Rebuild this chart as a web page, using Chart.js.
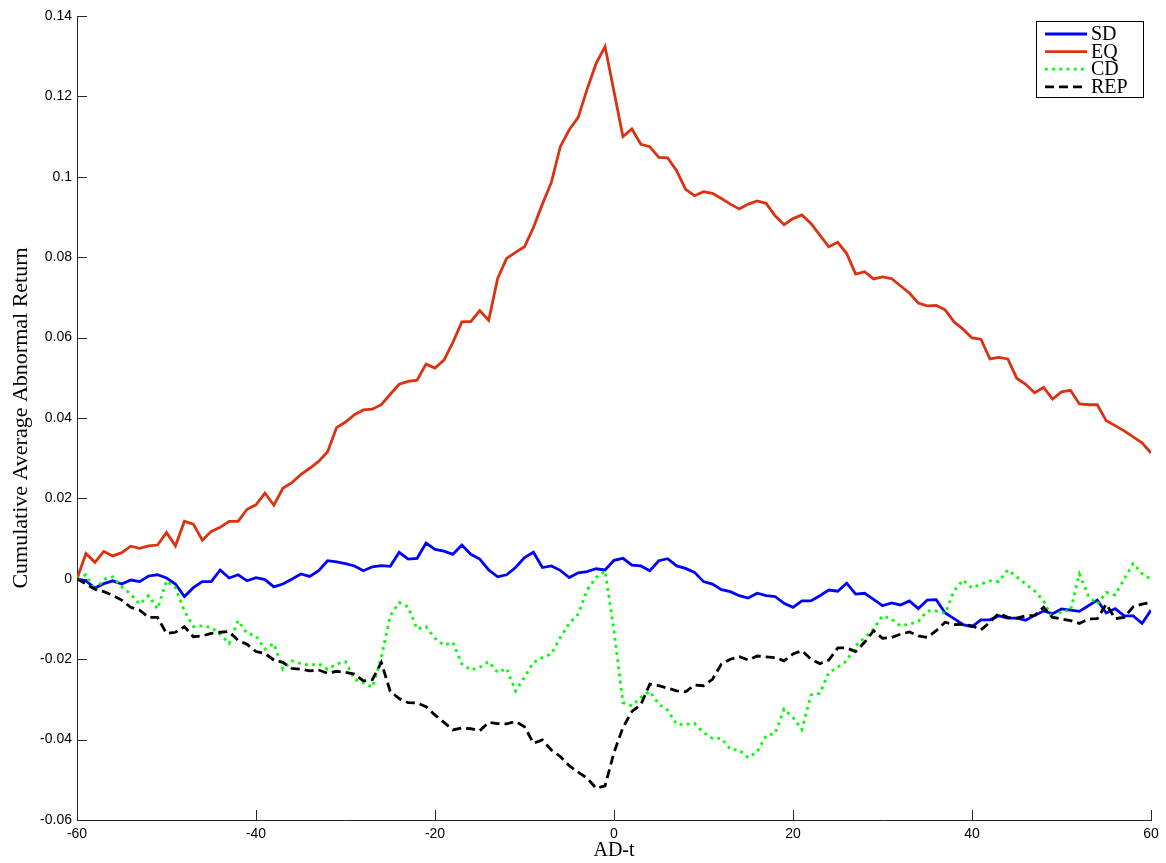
<!DOCTYPE html>
<html>
<head>
<meta charset="utf-8">
<script src="https://cdn.jsdelivr.net/npm/chart.js@4.4.1/dist/chart.umd.min.js"></script>
<style>
  html, body { margin: 0; padding: 0; background: #fff; }
  #wrap { width: 1166px; height: 863px; }
</style>
</head>
<body>
<div id="wrap"><canvas id="carChart" width="1166" height="863"></canvas></div>
<script>
// event days relative to announcement
const days = [-60,-59,-58,-57,-56,-55,-54,-53,-52,-51,-50,-49,-48,-47,-46,-45,-44,-43,-42,-41,
  -40,-39,-38,-37,-36,-35,-34,-33,-32,-31,-30,-29,-28,-27,-26,-25,-24,-23,-22,-21,
  -20,-19,-18,-17,-16,-15,-14,-13,-12,-11,-10,-9,-8,-7,-6,-5,-4,-3,-2,-1,
  0,1,2,3,4,5,6,7,8,9,10,11,12,13,14,15,16,17,18,19,
  20,21,22,23,24,25,26,27,28,29,30,31,32,33,34,35,36,37,38,39,
  40,41,42,43,44,45,46,47,48,49,50,51,52,53,54,55,56,57,58,59,60];

const sdValues = [0,-0.0005,-0.0023,-0.0012,-0.0005,-0.0013,-0.0003,-0.0007,0.0007,0.0010,
  0.0002,-0.0013,-0.0044,-0.0022,-0.0007,-0.0007,0.0022,0.0002,0.0010,-0.0005,
  0.0003,-0.0002,-0.0020,-0.0013,-0.0001,0.0012,0.0006,0.0020,0.0045,0.0042,
  0.0038,0.0032,0.0020,0.0030,0.0033,0.0031,0.0066,0.0049,0.0051,0.0089,
  0.0073,0.0069,0.0061,0.0084,0.0061,0.0049,0.0022,0.0005,0.0010,0.0028,
  0.0053,0.0066,0.0028,0.0032,0.0021,0.0003,0.0015,0.0018,0.0025,0.0022,
  0.0046,0.0051,0.0034,0.0032,0.0020,0.0045,0.0050,0.0032,0.0026,0.0016,
  -0.0007,-0.0013,-0.0027,-0.0032,-0.0042,-0.0048,-0.0036,-0.0042,-0.0044,-0.0061,
  -0.0071,-0.0055,-0.0055,-0.0042,-0.0028,-0.0031,-0.0011,-0.0038,-0.0036,-0.0051,
  -0.0067,-0.0060,-0.0065,-0.0055,-0.0074,-0.0053,-0.0052,-0.0085,-0.0099,-0.0114,
  -0.0119,-0.0102,-0.0102,-0.0092,-0.0098,-0.0098,-0.0103,-0.0091,-0.0080,-0.0087,
  -0.0075,-0.0078,-0.0081,-0.0067,-0.0053,-0.0085,-0.0074,-0.0092,-0.0092,-0.0111,-0.0078];

const eqValues = [0,0.0063,0.0041,0.0068,0.0057,0.0065,0.0081,0.0076,0.0082,0.0084,
  0.0115,0.0082,0.0143,0.0136,0.0096,0.0118,0.0128,0.0143,0.0143,0.0173,
  0.0184,0.0213,0.0183,0.0225,0.0239,0.0259,0.0275,0.0292,0.0316,0.0376,
  0.0390,0.0408,0.0420,0.0422,0.0433,0.0459,0.0484,0.0491,0.0494,0.0534,
  0.0524,0.0544,0.0588,0.0639,0.0640,0.0667,0.0643,0.0747,0.0797,0.0812,
  0.0826,0.0874,0.0932,0.0986,0.1075,0.1117,0.1148,0.1218,0.1282,0.1324,
  0.1212,0.1100,0.1119,0.1081,0.1075,0.1048,0.1047,0.1015,0.0969,0.0953,
  0.0963,0.0959,0.0946,0.0932,0.0920,0.0932,0.0940,0.0934,0.0903,0.0881,
  0.0896,0.0905,0.0884,0.0855,0.0826,0.0837,0.0809,0.0758,0.0764,0.0746,
  0.0751,0.0747,0.0729,0.0711,0.0686,0.0679,0.0680,0.0669,0.0639,0.0621,
  0.0599,0.0596,0.0547,0.0551,0.0547,0.0499,0.0484,0.0463,0.0476,0.0447,
  0.0465,0.0469,0.0435,0.0433,0.0433,0.0393,0.0381,0.0368,0.0353,0.0338,0.0313];

const cdValues = [0,0.0010,-0.0030,-0.0001,0.0005,-0.0020,-0.0038,-0.0063,-0.0042,-0.0075,
  -0.0005,-0.0022,-0.0080,-0.0119,-0.0117,-0.0121,-0.0138,-0.0161,-0.0104,-0.0136,
  -0.0142,-0.0175,-0.0161,-0.0225,-0.0204,-0.0211,-0.0215,-0.0211,-0.0225,-0.0212,
  -0.0206,-0.0250,-0.0258,-0.0270,-0.0196,-0.0092,-0.0059,-0.0070,-0.0125,-0.0119,
  -0.0148,-0.0165,-0.0158,-0.0212,-0.0227,-0.0220,-0.0206,-0.0233,-0.0223,-0.0279,
  -0.0245,-0.0208,-0.0196,-0.0187,-0.0146,-0.0111,-0.0088,-0.0028,0.0003,0.0020,
  -0.0129,-0.0308,-0.0316,-0.0295,-0.0280,-0.0312,-0.0327,-0.0362,-0.0362,-0.0360,
  -0.0382,-0.0397,-0.0397,-0.0424,-0.0426,-0.0445,-0.0430,-0.0390,-0.0385,-0.0324,
  -0.0345,-0.0375,-0.0289,-0.0285,-0.0233,-0.0220,-0.0204,-0.0166,-0.0147,-0.0125,
  -0.0092,-0.0100,-0.0117,-0.0113,-0.0106,-0.0080,-0.0080,-0.0086,-0.0030,-0.0003,
  -0.0023,-0.0013,-0.0005,-0.0007,0.0022,0.0005,-0.0013,-0.0030,-0.0055,-0.0100,
  -0.0080,-0.0080,0.0012,-0.0042,-0.0063,-0.0034,-0.0040,-0.0001,0.0038,0.0013,-0.0001];

const repValues = [0,-0.0013,-0.0026,-0.0032,-0.0041,-0.0053,-0.0071,-0.0078,-0.0096,-0.0096,
  -0.0136,-0.0133,-0.0119,-0.0144,-0.0142,-0.0136,-0.0133,-0.0131,-0.0153,-0.0163,
  -0.0181,-0.0186,-0.0202,-0.0208,-0.0223,-0.0225,-0.0229,-0.0227,-0.0235,-0.0230,
  -0.0233,-0.0237,-0.0254,-0.0251,-0.0208,-0.0280,-0.0298,-0.0308,-0.0309,-0.0318,
  -0.0339,-0.0357,-0.0376,-0.0371,-0.0373,-0.0378,-0.0357,-0.0360,-0.0361,-0.0355,
  -0.0368,-0.0409,-0.0401,-0.0426,-0.0442,-0.0465,-0.0481,-0.0496,-0.0521,-0.0515,
  -0.0432,-0.0370,-0.0330,-0.0313,-0.0262,-0.0266,-0.0272,-0.0279,-0.0281,-0.0264,
  -0.0266,-0.0250,-0.0212,-0.0200,-0.0194,-0.0202,-0.0192,-0.0194,-0.0196,-0.0204,
  -0.0187,-0.0179,-0.0200,-0.0211,-0.0202,-0.0172,-0.0172,-0.0181,-0.0158,-0.0129,
  -0.0148,-0.0146,-0.0138,-0.0132,-0.0142,-0.0146,-0.0129,-0.0108,-0.0114,-0.0113,
  -0.0117,-0.0127,-0.0108,-0.0086,-0.0096,-0.0098,-0.0092,-0.0091,-0.0071,-0.0096,
  -0.0100,-0.0104,-0.0111,-0.0100,-0.0099,-0.0063,-0.0099,-0.0096,-0.0070,-0.0063,-0.0059];

const seriesNames = ["SD", "EQ", "CD", "REP"];

const pts = vals => days.map((d, i) => ({ x: d, y: vals[i] }));

// matlab style: ticks drawn inward from the axis
const innerTicks = {
  id: "innerTicks",
  afterDraw(chart) {
    const { ctx, chartArea: a, scales: { x, y } } = chart;
    ctx.save();
    ctx.strokeStyle = "#262626";
    ctx.lineWidth = 1;
    ctx.beginPath();
    x.ticks.forEach(t => {
      const px = Math.round(x.getPixelForValue(t.value)) + 0.5;
      ctx.moveTo(px, a.bottom);
      ctx.lineTo(px, a.bottom - 10);
    });
    y.ticks.forEach(t => {
      const py = Math.round(y.getPixelForValue(t.value)) + 0.5;
      ctx.moveTo(a.left, py);
      ctx.lineTo(a.left + 10, py);
    });
    ctx.stroke();
    ctx.restore();
  }
};

const boxLegend = {
  id: "boxLegend",
  afterDraw(chart) {
    const ctx = chart.ctx;
    const bx = 1036.5, by = 21.5, bw = 107, bh = 76;
    ctx.save();
    ctx.fillStyle = "#fff";
    ctx.fillRect(bx, by, bw, bh);
    ctx.strokeStyle = "#000";
    ctx.lineWidth = 1;
    ctx.strokeRect(bx, by, bw, bh);
    ctx.font = "20px 'Liberation Serif', serif";
    ctx.textBaseline = "middle";
    chart.data.datasets.forEach((ds, i) => {
      const ry = 34 + i * 17.6;
      ctx.beginPath();
      ctx.strokeStyle = ds.borderColor;
      ctx.lineWidth = ds.borderWidth;
      ctx.setLineDash(ds.borderDash || []);
      ctx.moveTo(1045, ry);
      ctx.lineTo(1087, ry);
      ctx.stroke();
      ctx.setLineDash([]);
      ctx.fillStyle = "#000";
      ctx.fillText(ds.label, 1091, ry + 1);
    });
    ctx.restore();
  }
};

new Chart(document.getElementById("carChart"), {
  type: "line",
  data: {
    datasets: [
      { label: seriesNames[0], data: pts(sdValues), borderColor: "#0000ff", borderWidth: 2.8, order: 3 },
      { label: seriesNames[1], data: pts(eqValues), borderColor: "#dc3212", borderWidth: 2.8, order: 2 },
      { label: seriesNames[2], data: pts(cdValues), borderColor: "#00ff00", borderWidth: 2.8, borderDash: [2.8, 4.4], order: 1 },
      { label: seriesNames[3], data: pts(repValues), borderColor: "#000000", borderWidth: 2.8, borderDash: [9, 5], order: 0 }
    ]
  },
  options: {
    responsive: false,
    animation: false,
    devicePixelRatio: 1,
    layout: { padding: { top: 16, right: 15, left: 0, bottom: 0 } },
    elements: { point: { radius: 0 }, line: { tension: 0, borderCapStyle: "butt" } },
    plugins: { legend: { display: false }, tooltip: { enabled: false } },
    scales: {
      x: {
        type: "linear",
        min: -60, max: 60,
        afterFit: s => { s.height = 43; },
        ticks: { stepSize: 20, padding: 6, color: "#000", font: { family: "'Liberation Sans', Arial", size: 14 } },
        grid: { drawOnChartArea: false, drawTicks: false },
        border: { display: true, color: "#262626", width: 1 },
        title: { display: true, text: "AD-t", color: "#000", padding: { top: 0, bottom: 0 },
                 font: { family: "'Liberation Serif', serif", size: 20 } }
      },
      y: {
        min: -0.06, max: 0.14,
        afterFit: s => { s.width = 77; },
        ticks: {
          stepSize: 0.02, padding: 5, color: "#000",
          font: { family: "'Liberation Sans', Arial", size: 14 },
          callback: v => parseFloat(v.toFixed(2)).toString()
        },
        grid: { drawOnChartArea: false, drawTicks: false },
        border: { display: true, color: "#262626", width: 1 },
        title: { display: true, text: "Cumulative Average Abnormal Return", color: "#000",
                 padding: { top: 8, bottom: 0 },
                 font: { family: "'Liberation Serif', serif", size: 22 } }
      }
    }
  },
  plugins: [innerTicks, boxLegend]
});
</script>
</body>
</html>
